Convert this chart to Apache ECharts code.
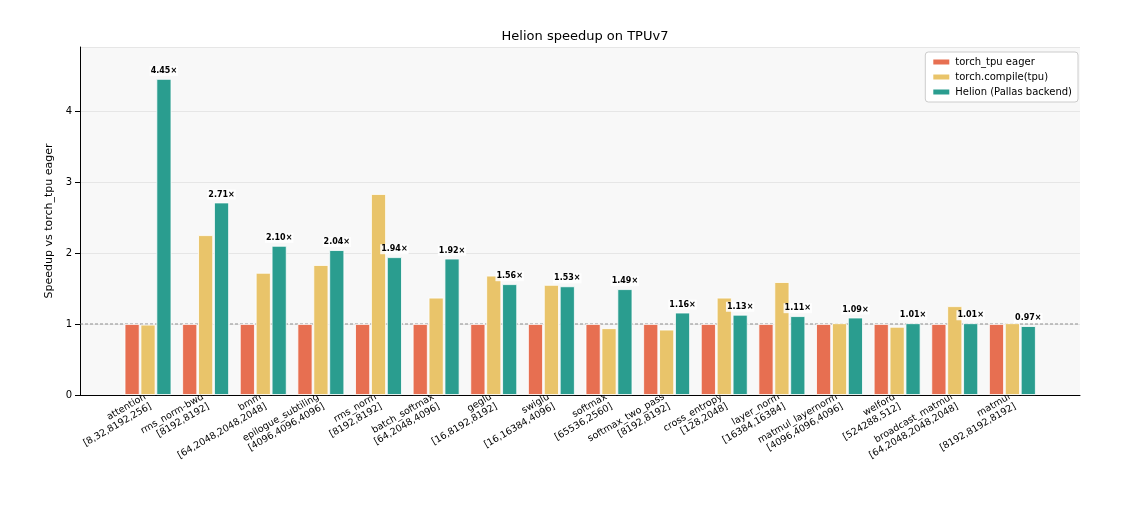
<!DOCTYPE html>
<html>
<head>
<meta charset="utf-8">
<script src="https://cdn.jsdelivr.net/npm/echarts@6/dist/echarts.min.js"></script>
<style>html,body{margin:0;padding:0;background:#fff;}#chart{width:1140px;height:507px;}</style>
</head>
<body>
<div id="chart"></div>
<script>
const categories = [
  'attention\n[8,32,8192,256]', 'rms_norm-bwd\n[8192,8192]', 'bmm\n[64,2048,2048,2048]',
  'epilogue_subtiling\n[4096,4096,4096]', 'rms_norm\n[8192,8192]', 'batch_softmax\n[64,2048,4096]',
  'geglu\n[16,8192,8192]', 'swiglu\n[16,16384,4096]', 'softmax\n[65536,2560]',
  'softmax_two_pass\n[8192,8192]', 'cross_entropy\n[128,2048]', 'layer_norm\n[16384,16384]',
  'matmul_layernorm\n[4096,4096,4096]', 'welford\n[524288,512]', 'broadcast_matmul\n[64,2048,2048,2048]',
  'matmul\n[8192,8192,8192]'
];
const eager = [1,1,1,1,1,1,1,1,1,1,1,1,1,1,1,1];
const compiled = [0.99,2.25,1.72,1.83,2.83,1.37,1.68,1.55,0.94,0.92,1.37,1.59,1.01,0.96,1.25,1.01];
const helion = [4.45,2.71,2.10,2.04,1.94,1.92,1.56,1.53,1.49,1.16,1.13,1.11,1.09,1.01,1.01,0.97];
const baseline = [[0, 1], [1, 1]];
const yMax = 4.9;

const chart = echarts.init(document.getElementById('chart'));
const font = 'DejaVu Sans';
chart.setOption({
  animation: false,
  textStyle: {fontFamily: font},
  title: {
    text: 'Helion speedup on TPUv7', left: 580, top: 25, textAlign: 'center',
    textStyle: {fontSize: 13, fontWeight: 'normal', color: '#000', fontFamily: font}
  },
  legend: {
    right: 62, top: 52, orient: 'vertical', itemWidth: 18, itemHeight: 7, itemGap: 5,
    backgroundColor: '#fff', borderColor: '#ccc', borderWidth: 1, borderRadius: 3, padding: [5, 6],
    textStyle: {fontSize: 10, color: '#000', fontFamily: font},
    icon: 'rect',
    data: ['torch_tpu eager', 'torch.compile(tpu)', 'Helion (Pallas backend)']
  },
  grid: [
    {left: 80, right: 60, top: 47, bottom: 112, backgroundColor: '#f8f8f8', show: true, borderWidth: 0},
    {left: 119.2, right: 98.8, top: 47, bottom: 112}
  ],
  xAxis: [
    {type: 'value', gridIndex: 0, min: 0, max: 1, axisLabel: {show: false}, axisTick: {show: false},
     splitLine: {show: false}, axisLine: {lineStyle: {color: '#000'}}},
    {type: 'category', gridIndex: 1, data: categories,
     axisLine: {show: false},
     axisTick: {alignWithLabel: true, lineStyle: {color: '#000'}},
     axisLabel: {rotate: 30, interval: 0, fontSize: 9.5, color: '#000', lineHeight: 11, fontFamily: font, margin: 6}}
  ],
  yAxis: [
    {type: 'value', gridIndex: 0, min: 0, max: yMax, interval: 1,
     name: 'Speedup vs torch_tpu eager', nameLocation: 'middle', nameGap: 22,
     nameTextStyle: {fontSize: 11, color: '#000', fontFamily: font},
     axisLine: {show: true, lineStyle: {color: '#000'}},
     axisTick: {show: true, lineStyle: {color: '#000'}},
     axisLabel: {fontSize: 10, color: '#000', showMaxLabel: false},
     splitLine: {lineStyle: {color: '#e6e6e6'}}},
    {type: 'value', gridIndex: 1, min: 0, max: yMax, show: false, splitLine: {show: false}}
  ],
  series: [
    {type: 'line', xAxisIndex: 0, yAxisIndex: 0, data: baseline, symbol: 'none', silent: true,
     lineStyle: {color: '#777', type: [3, 2], width: 0.8}, z: 1},
    {name: 'torch_tpu eager', type: 'bar', xAxisIndex: 1, yAxisIndex: 1, data: eager, barWidth: 15, barGap: '6%',
     itemStyle: {color: '#e76f51', borderColor: '#fff', borderWidth: 0.8}},
    {name: 'torch.compile(tpu)', type: 'bar', xAxisIndex: 1, yAxisIndex: 1, data: compiled, barWidth: 15, barGap: '6%',
     itemStyle: {color: '#e9c46a', borderColor: '#fff', borderWidth: 0.8}},
    {name: 'Helion (Pallas backend)', type: 'bar', xAxisIndex: 1, yAxisIndex: 1, data: helion, barWidth: 15, barGap: '6%',
     itemStyle: {color: '#2a9d8f', borderColor: '#fff', borderWidth: 0.8},
     label: {show: true, position: 'top', distance: 3, fontSize: 8, fontWeight: 'bold', color: '#000',
       backgroundColor: 'rgba(255,255,255,0.85)', padding: [1, 1],
       formatter: p => p.value.toFixed(2) + '×'}}
  ]
});
</script>
</body>
</html>
